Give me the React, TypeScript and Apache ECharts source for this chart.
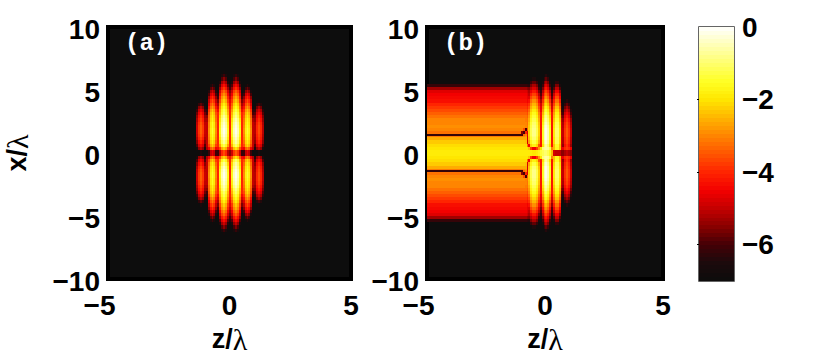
import React, { useEffect, useRef } from "react";
import * as echarts from "echarts";

// Panel (a): log-intensity; rows are |x|/lambda bands of 0.25, columns are z cells
const aRowStep = 0.25;
const aColStart = -1.38;
const aColStep = 0.08;
const aRows = [
  [-7,-6.9,-6.5,-6.9,-7,-7,-6.1,-5,-4.6,-5,-6.1,-6.2,-5.1,-4,-3.6,-4,-5.1,-5.5,-4.9,-3.8,-3.4,-3.8,-4.9,-6.2,-6.1,-5,-4.6,-5,-6.1,-7,-7,-6.9,-6.5,-6.9,-7],
  [-6.5,-5.4,-5,-5.4,-6.5,-5.2,-4.5,-3.4,-3,-3.4,-4.5,-4.4,-3.7,-2.6,-2.2,-2.6,-3.7,-4.2,-3.5,-2.4,-2,-2.4,-3.5,-4.4,-4.5,-3.4,-3,-3.4,-4.5,-5.2,-6.5,-5.4,-5,-5.4,-6.5],
  [-5.9,-4.8,-4.4,-4.8,-5.9,-5,-3.7,-2.6,-2.2,-2.6,-3.7,-4,-2.7,-1.6,-1.2,-1.6,-2.7,-4,-2.5,-1.4,-1,-1.4,-2.5,-4,-3.6,-2.5,-2.1,-2.5,-3.6,-5,-5.9,-4.8,-4.4,-4.8,-5.9],
  [-5.5,-4.4,-4,-4.4,-5.5,-5,-3.3,-2.2,-1.8,-2.2,-3.3,-4,-2.2,-1.1,-0.7,-1.1,-2.2,-4,-2.1,-1,-0.6,-1,-2.1,-4,-3.3,-2.2,-1.8,-2.2,-3.3,-5,-5.5,-4.4,-4,-4.4,-5.5],
  [-5.2,-4.1,-3.7,-4.1,-5.2,-5,-3.1,-2,-1.6,-2,-3.1,-4,-1.9,-0.8,-0.4,-0.8,-1.9,-4,-1.9,-0.8,-0.4,-0.8,-1.9,-4,-3.1,-2,-1.6,-2,-3.1,-5,-5.3,-4.2,-3.8,-4.2,-5.3],
  [-5,-3.9,-3.5,-3.9,-5,-5,-3,-1.9,-1.5,-1.9,-3,-4,-1.7,-0.6,-0.2,-0.6,-1.7,-4,-1.7,-0.6,-0.2,-0.6,-1.7,-4,-3,-1.9,-1.5,-1.9,-3,-5,-5.2,-4.1,-3.7,-4.1,-5.2],
  [-4.9,-3.8,-3.4,-3.8,-4.9,-5,-2.9,-1.8,-1.4,-1.8,-2.9,-4,-1.6,-0.5,-0.1,-0.5,-1.6,-4,-1.6,-0.5,-0.1,-0.5,-1.6,-4,-2.9,-1.8,-1.4,-1.8,-2.9,-5,-5.1,-4,-3.6,-4,-5.1],
  [-4.9,-3.8,-3.4,-3.8,-4.9,-5,-2.9,-1.8,-1.4,-1.8,-2.9,-4,-1.6,-0.5,-0.1,-0.5,-1.6,-4,-1.6,-0.5,-0.1,-0.5,-1.6,-4,-2.9,-1.8,-1.4,-1.8,-2.9,-5,-5.1,-4,-3.6,-4,-5.1],
  [-4.9,-3.8,-3.4,-3.8,-4.9,-5,-3,-1.9,-1.5,-1.9,-3,-4,-1.7,-0.6,-0.2,-0.6,-1.7,-4,-1.7,-0.6,-0.2,-0.6,-1.7,-4,-3,-1.9,-1.5,-1.9,-3,-5,-5.1,-4,-3.6,-4,-5.1],
  [-5,-3.9,-3.5,-3.9,-5,-5,-3,-1.9,-1.5,-1.9,-3,-4,-1.8,-0.7,-0.3,-0.7,-1.8,-4,-1.8,-0.7,-0.3,-0.7,-1.8,-4,-3.1,-2,-1.6,-2,-3.1,-5,-5.2,-4.1,-3.7,-4.1,-5.2],
  [-5.2,-4.1,-3.7,-4.1,-5.2,-5.2,-3.2,-2.1,-1.7,-2.1,-3.2,-4,-2,-0.9,-0.5,-0.9,-2,-4,-2,-0.9,-0.5,-0.9,-2,-4,-3.2,-2.1,-1.7,-2.1,-3.2,-5.2,-5.4,-4.3,-3.9,-4.3,-5.4],
  [-5.4,-4.3,-3.9,-4.3,-5.4,-5.5,-3.3,-2.2,-1.8,-2.2,-3.3,-4,-2.2,-1.1,-0.7,-1.1,-2.2,-4,-2.3,-1.2,-0.8,-1.2,-2.3,-4,-3.4,-2.3,-1.9,-2.3,-3.4,-5.6,-5.6,-4.5,-4.1,-4.5,-5.6],
  [-5.7,-4.6,-4.2,-4.6,-5.7,-6,-3.5,-2.4,-2,-2.4,-3.5,-4,-2.5,-1.4,-1,-1.4,-2.5,-4,-2.5,-1.4,-1,-1.4,-2.5,-4,-3.6,-2.5,-2.1,-2.5,-3.6,-6,-5.9,-4.8,-4.4,-4.8,-5.9],
  [-6.1,-5,-4.6,-5,-6.1,-6.3,-3.8,-2.7,-2.3,-2.7,-3.8,-4.4,-2.7,-1.6,-1.2,-1.6,-2.7,-4,-2.8,-1.7,-1.3,-1.7,-2.8,-4.4,-3.9,-2.8,-2.4,-2.8,-3.9,-6.3,-6.3,-5.2,-4.8,-5.2,-6.3],
  [-6.6,-5.5,-5.1,-5.5,-6.6,-7,-4.2,-3.1,-2.7,-3.1,-4.2,-4.8,-3,-1.9,-1.5,-1.9,-3,-4.2,-3.1,-2,-1.6,-2,-3.1,-4.8,-4.3,-3.2,-2.8,-3.2,-4.3,-7,-6.8,-5.7,-5.3,-5.7,-6.8],
  [-7,-6.2,-5.8,-6.2,-7,-7,-4.6,-3.5,-3.1,-3.5,-4.6,-5.2,-3.3,-2.2,-1.8,-2.2,-3.3,-4.4,-3.4,-2.3,-1.9,-2.3,-3.4,-5.2,-4.7,-3.6,-3.2,-3.6,-4.7,-7,-7,-6.4,-6,-6.4,-7],
  [-7,-7,-6.6,-7,-7,-7,-5,-3.9,-3.5,-3.9,-5,-5.6,-3.7,-2.6,-2.2,-2.6,-3.7,-4.6,-3.8,-2.7,-2.3,-2.7,-3.8,-5.6,-5.1,-4,-3.6,-4,-5.1,-7,-7,-7,-6.8,-7,-7],
  [-7,-7,-7,-7,-7,-7,-5.4,-4.3,-3.9,-4.3,-5.4,-6,-4,-2.9,-2.5,-2.9,-4,-5,-4.1,-3,-2.6,-3,-4.1,-6,-5.5,-4.4,-4,-4.4,-5.5,-7,-7,-7,-7,-7,-7],
  [-7,-7,-7,-7,-7,-7,-5.9,-4.8,-4.4,-4.8,-5.9,-6.4,-4.4,-3.3,-2.9,-3.3,-4.4,-5.3,-4.5,-3.4,-3,-3.4,-4.5,-6.4,-6,-4.9,-4.5,-4.9,-6,-7,-7,-7,-7,-7,-7],
  [-7,-7,-7,-7,-7,-7,-6.4,-5.3,-4.9,-5.3,-6.4,-7,-4.8,-3.7,-3.3,-3.7,-4.8,-5.6,-4.9,-3.8,-3.4,-3.8,-4.9,-7,-6.6,-5.5,-5.1,-5.5,-6.6,-7,-7,-7,-7,-7,-7],
  [-7,-7,-7,-7,-7,-7,-7,-5.9,-5.5,-5.9,-7,-7,-5.3,-4.2,-3.8,-4.2,-5.3,-6,-5.4,-4.3,-3.9,-4.3,-5.4,-7,-7,-6.1,-5.7,-6.1,-7,-7,-7,-7,-7,-7,-7],
  [-7,-7,-7,-7,-7,-7,-7,-6.5,-6.1,-6.5,-7,-7,-5.8,-4.7,-4.3,-4.7,-5.8,-6.4,-5.9,-4.8,-4.4,-4.8,-5.9,-7,-7,-6.8,-6.4,-6.8,-7,-7,-7,-7,-7,-7,-7],
  [-7,-7,-7,-7,-7,-7,-7,-7,-6.8,-7,-7,-7,-6.4,-5.3,-4.9,-5.3,-6.4,-7,-6.5,-5.4,-5,-5.4,-6.5,-7,-7,-7,-7,-7,-7,-7,-7,-7,-7,-7,-7],
  [-7,-7,-7,-7,-7,-7,-7,-7,-7,-7,-7,-7,-7,-5.9,-5.5,-5.9,-7,-7,-7,-6,-5.6,-6,-7,-7,-7,-7,-7,-7,-7,-7,-7,-7,-7,-7,-7],
  [-7,-7,-7,-7,-7,-7,-7,-7,-7,-7,-7,-7,-7,-6.5,-6.1,-6.5,-7,-7,-7,-6.6,-6.2,-6.6,-7,-7,-7,-7,-7,-7,-7,-7,-7,-7,-7,-7,-7],
  [-7,-7,-7,-7,-7,-7,-7,-7,-7,-7,-7,-7,-7,-7,-6.8,-7,-7,-7,-7,-7,-6.9,-7,-7,-7,-7,-7,-7,-7,-7,-7,-7,-7,-7,-7,-7],
];

// Panel (b): same kind of table near the focus, plus the flat profile left of it
const bRowEdges = [0,0.25,0.5,0.75,1,1.25,1.33,1.47,1.75,2,2.25,2.5,2.75,3,3.25,3.5,3.75,4,4.25,4.5,4.75,5,5.25,5.5,5.75,6,6.25];
const bColStart = -1.02;
const bColStep = 0.08;
const bBandStart = -5;
const bBandProfile = [-1.9,-2,-2.1,-2.3,-2.6,-3.1,-6.2,-3.2,-3,-2.9,-3,-3,-3.2,-3.4,-3.6,-3.8,-4,-4.3,-4.4,-4.5,-4.7,-5.3,-6.2,-7,-7,-7];
const bRows = [
  [-1.9,-1.9,-1.9,-1.9,-1.9,-1.9,-2,-2,-1.9,-1.7,-1.4,-1.2,-1,-1,-1.2,-1.6,-2.5,-4.8,-5,-5,-5,-5.5,-5.5,-5.2,-5,-5.2,-5.5],
  [-2,-2,-2,-2,-2.4,-3.8,-4.5,-4.5,-3.8,-2.8,-2,-0.9,-0.7,-0.6,-0.7,-1.2,-3,-2.4,-1.6,-1.6,-2.4,-4.6,-4.6,-4,-3.8,-4,-4.6],
  [-2.1,-2.1,-2.1,-3.2,-4.5,-2.2,-1.8,-1.8,-2.2,-3.5,-4.2,-2,-1,-0.6,-1,-2,-4.2,-2.4,-1.5,-1.5,-2.4,-4.8,-5.4,-4.3,-3.9,-4.3,-5.4],
  [-2.3,-2.3,-2.4,-4.8,-2.7,-1.7,-1.3,-1.3,-1.7,-2.7,-4.2,-1.7,-0.7,-0.3,-0.7,-1.7,-4.2,-2.1,-1.2,-1.2,-2.1,-4.8,-5.2,-4.1,-3.7,-4.1,-5.2],
  [-2.6,-2.6,-2.6,-4.8,-2.4,-1.4,-1,-1,-1.4,-2.4,-4.2,-1.5,-0.5,-0.1,-0.5,-1.5,-4.2,-2,-1.1,-1.1,-2,-4.8,-5.1,-4,-3.6,-4,-5.1],
  [-3.1,-2.9,-2.8,-4.8,-2.3,-1.3,-0.9,-0.9,-1.3,-2.3,-4.2,-1.5,-0.5,-0.1,-0.5,-1.5,-4.2,-1.9,-1,-1,-1.9,-4.8,-5,-3.9,-3.5,-3.9,-5],
  [-6,-3.3,-3,-4.6,-2.2,-1.2,-0.8,-0.8,-1.2,-2.2,-4.2,-1.5,-0.5,-0.1,-0.5,-1.5,-4.2,-1.9,-1,-1,-1.9,-4.8,-5,-3.9,-3.5,-3.9,-5],
  [-5.5,-6,-4,-4.8,-2.2,-1.2,-0.8,-0.8,-1.2,-2.2,-4.2,-1.5,-0.5,-0.1,-0.5,-1.5,-4.2,-1.9,-1,-1,-1.9,-4.8,-5,-3.9,-3.5,-3.9,-5],
  [-3,-3.6,-6,-3.5,-2.2,-1.2,-0.8,-0.8,-1.2,-2.2,-4.2,-1.5,-0.5,-0.1,-0.5,-1.5,-4.2,-1.9,-1,-1,-1.9,-4.8,-5,-3.9,-3.5,-3.9,-5],
  [-2.9,-2.9,-3,-3.1,-2.3,-1.3,-0.9,-0.9,-1.3,-2.3,-4.2,-1.6,-0.6,-0.2,-0.6,-1.6,-4.2,-2,-1.1,-1.1,-2,-4.8,-5.1,-4,-3.6,-4,-5.1],
  [-3,-3,-3,-3.2,-2.4,-1.4,-1,-1,-1.4,-2.4,-4.2,-1.8,-0.8,-0.4,-0.8,-1.8,-4.2,-2.1,-1.2,-1.2,-2.1,-4.8,-5.2,-4.1,-3.7,-4.1,-5.2],
  [-3,-3,-3.1,-3.2,-2.6,-1.6,-1.2,-1.2,-1.6,-2.6,-4.2,-2,-1,-0.6,-1,-2,-4.2,-2.3,-1.4,-1.4,-2.3,-5,-5.4,-4.3,-3.9,-4.3,-5.4],
  [-3.2,-3.2,-3.2,-3.4,-2.8,-1.8,-1.4,-1.4,-1.8,-2.8,-4.2,-2.2,-1.2,-0.8,-1.2,-2.2,-4.2,-2.5,-1.6,-1.6,-2.5,-5.4,-5.7,-4.6,-4.2,-4.6,-5.7],
  [-3.4,-3.4,-3.4,-3.6,-3,-2,-1.6,-1.6,-2,-3,-4.2,-2.5,-1.5,-1.1,-1.5,-2.5,-4.2,-2.7,-1.8,-1.8,-2.7,-5.8,-6,-4.9,-4.5,-4.9,-6],
  [-3.6,-3.6,-3.6,-3.8,-3.3,-2.3,-1.9,-1.9,-2.3,-3.3,-4.5,-2.8,-1.8,-1.4,-1.8,-2.8,-4.5,-3,-2.1,-2.1,-3,-6,-6.4,-5.3,-4.9,-5.3,-6.4],
  [-3.8,-3.8,-3.8,-4,-3.6,-2.6,-2.2,-2.2,-2.6,-3.6,-4.6,-3.1,-2.1,-1.7,-2.1,-3.1,-4.8,-3.3,-2.4,-2.4,-3.3,-6.2,-6.8,-5.7,-5.3,-5.7,-6.8],
  [-4,-4,-4,-4.2,-3.9,-2.9,-2.5,-2.5,-2.9,-3.9,-4.8,-3.5,-2.5,-2.1,-2.5,-3.5,-5,-3.7,-2.8,-2.8,-3.7,-6.4,-7,-6.2,-5.8,-6.2,-7],
  [-4.3,-4.3,-4.3,-4.5,-4.3,-3.3,-2.9,-2.9,-3.3,-4.3,-5.2,-3.9,-2.9,-2.5,-2.9,-3.9,-5.4,-4.1,-3.2,-3.2,-4.1,-7,-7,-6.8,-6.4,-6.8,-7],
  [-4.4,-4.4,-4.4,-4.6,-4.7,-3.7,-3.3,-3.3,-3.7,-4.7,-5.6,-4.3,-3.3,-2.9,-3.3,-4.3,-5.8,-4.5,-3.6,-3.6,-4.5,-7,-7,-7,-7,-7,-7],
  [-4.5,-4.5,-4.5,-4.7,-5,-4.1,-3.7,-3.7,-4.1,-5.1,-5.9,-4.7,-3.7,-3.3,-3.7,-4.7,-6,-4.9,-4,-4,-4.9,-7,-7,-7,-7,-7,-7],
  [-4.7,-4.7,-4.7,-4.9,-5.2,-4.6,-4.2,-4.2,-4.6,-5.6,-6.2,-5.1,-4.1,-3.7,-4.1,-5.1,-6.4,-5.4,-4.5,-4.5,-5.4,-7,-7,-7,-7,-7,-7],
  [-5.3,-5.3,-5.3,-5.5,-5.6,-5.1,-4.7,-4.7,-5.1,-6.1,-6.5,-5.6,-4.6,-4.2,-4.6,-5.6,-6.8,-5.9,-5,-5,-5.9,-7,-7,-7,-7,-7,-7],
  [-6.2,-6.2,-6.2,-6.3,-6.4,-5.6,-5.2,-5.2,-5.6,-6.6,-7,-6.1,-5.1,-4.7,-5.1,-6.1,-7,-6.5,-5.6,-5.6,-6.5,-7,-7,-7,-7,-7,-7],
  [-7,-7,-7,-7,-7,-6.2,-5.8,-5.8,-6.2,-7,-7,-6.6,-5.6,-5.2,-5.6,-6.6,-7,-7,-6.3,-6.3,-7,-7,-7,-7,-7,-7,-7],
  [-7,-7,-7,-7,-7,-6.9,-6.5,-6.5,-6.9,-7,-7,-7,-6.2,-5.8,-6.2,-7,-7,-7,-7,-7,-7,-7,-7,-7,-7,-7,-7],
  [-7,-7,-7,-7,-7,-7,-7,-7,-7,-7,-7,-7,-6.8,-6.4,-6.8,-7,-7,-7,-7,-7,-7,-7,-7,-7,-7,-7,-7],
];

const zTicksMax = 5;
const xTicksMax = 10;
const colorbarTicks = [0, -2, -4, -6];
const colorbarMinorTicks = [-2, -4, -6];
const colorMin = -7;
const colorMax = 0;
const colorbarBands = 64;
const hotStops = [
  "#0c0c0c", "#1c0a0c", "#450005", "#8a0000", "#c30000", "#f30000", "#ff2400", "#ff5500",
  "#ff8500", "#ffb600", "#ffe700", "#ffff24", "#ffff6d", "#ffffb6", "#ffffff",
];

const FONT = "Liberation Sans";
const minus = (v: number | string) => String(v).replace("-", "\u2212");

type Cell = [number, number, number, number, number];

function panelCells(rows: number[][], edges: number[], start: number, step: number): Cell[] {
  const out: Cell[] = [];
  rows.forEach((row, r) => {
    row.forEach((v, c) => {
      if (v <= colorMin) return;
      const z0 = start + c * step;
      const z1 = z0 + step;
      out.push([z0, z1, edges[r], edges[r + 1], v]);
      out.push([z0, z1, -edges[r + 1], -edges[r], v]);
    });
  });
  return out;
}

function bandCells(profile: number[], edges: number[], z0: number, z1: number): Cell[] {
  const out: Cell[] = [];
  profile.forEach((v, r) => {
    if (v <= colorMin) return;
    out.push([z0, z1, edges[r], edges[r + 1], v]);
    out.push([z0, z1, -edges[r + 1], -edges[r], v]);
  });
  return out;
}

const aRowEdges = aRows.map((_, i) => i * aRowStep).concat(aRows.length * aRowStep);

const barCells: Cell[] = Array.from({ length: colorbarBands }, (_, i) => {
  const h = (colorMax - colorMin) / colorbarBands;
  const lo = colorMin + i * h;
  return [0, 1, lo, lo + h, lo + h / 2] as Cell;
});

const renderCell = (_: any, api: any) => {
  const a = api.coord([api.value(0), api.value(3)]);
  const b = api.coord([api.value(1), api.value(2)]);
  const x = Math.round(a[0]);
  const y = Math.round(a[1]);
  return {
    type: "rect",
    shape: { x, y, width: Math.round(b[0]) - x, height: Math.round(b[1]) - y },
    style: { fill: api.visual("color") },
  };
};

const cellSeries = (index: number, data: Cell[]) => ({
  type: "custom",
  xAxisIndex: index,
  yAxisIndex: index,
  renderItem: renderCell,
  encode: { x: [0, 1], y: [2, 3] },
  clip: true,
  silent: true,
  data,
});

const tickFont = { fontFamily: FONT, fontWeight: "bold" as const, fontSize: 28, color: "#000" };
const nameRich = {
  rich: {
    b: { fontFamily: FONT, fontWeight: "bold" as const, fontSize: 27, color: "#000" },
    l: { fontFamily: "Liberation Serif", fontWeight: "normal" as const, fontSize: 30, color: "#000" },
  },
};

const panelGrid = (left: number, width: number) => ({
  left,
  top: 27,
  width,
  height: 254,
  show: true,
  backgroundColor: "#0d0d0d",
  borderColor: "#000",
  borderWidth: 4,
});

const zAxis = (gridIndex: number) => ({
  type: "value",
  gridIndex,
  min: -zTicksMax,
  max: zTicksMax,
  interval: zTicksMax,
  name: "{b|z/}{l|\u03bb}",
  nameLocation: "middle",
  nameGap: 45,
  nameTextStyle: nameRich,
  axisLine: { show: true, onZero: false, lineStyle: { color: "#000", width: 4 } },
  axisTick: { show: false },
  splitLine: { show: false },
  axisLabel: {
    ...tickFont,
    margin: 12,
    hideOverlap: false,
    formatter: (v: number) => (v < 0 ? `{n|${minus(v)}}` : `${v}`),
    rich: { n: { ...tickFont, padding: [0, 17, 0, 0] } },
  },
});

const xAxisY = (gridIndex: number, named: boolean) => ({
  type: "value",
  gridIndex,
  min: -xTicksMax,
  max: xTicksMax,
  interval: 5,
  ...(named
    ? {
        name: "{b|x/}{l|\u03bb}",
        nameLocation: "middle",
        nameGap: 76,
        nameRotate: 90,
        nameTextStyle: nameRich,
      }
    : {}),
  axisLine: { show: true, onZero: false, lineStyle: { color: "#000", width: 4 } },
  axisTick: { show: false },
  splitLine: { show: false },
  axisLabel: {
    ...tickFont,
    margin: 8,
    hideOverlap: false,
    formatter: (v: number) => `{t|${minus(v)}}`,
    rich: { t: { ...tickFont, padding: [4, 0, 0, 0] } },
  },
});

const panelLabel = (x: number, text: string) => ({
  type: "text",
  x,
  y: 31,
  silent: true,
  style: {
    text,
    fontFamily: "Liberation Mono",
    fontWeight: "bold",
    fontSize: 24,
    fill: "#fff",
  },
});

export default function App() {
  const ref = useRef<HTMLDivElement>(null);
  useEffect(() => {
    if (!ref.current) return;
    const chart = echarts.init(ref.current, undefined, { renderer: "svg" });
    chart.setOption({
      animation: false,
      backgroundColor: "#fff",
      grid: [
        panelGrid(108, 243),
        panelGrid(427, 236),
        { left: 699, top: 27, width: 35, height: 254, show: true, borderColor: "#333", borderWidth: 1.5 },
      ],
      xAxis: [zAxis(0), zAxis(1), { type: "value", gridIndex: 2, min: 0, max: 1, show: false }],
      yAxis: [
        xAxisY(0, true),
        xAxisY(1, false),
        {
          type: "value",
          gridIndex: 2,
          position: "right",
          min: colorMin,
          max: colorMax,
          axisLine: { show: false },
          splitLine: { show: false },
          axisTick: { show: true, inside: true, length: 2, customValues: colorbarMinorTicks, lineStyle: { color: "#000", width: 1 } },
          axisLabel: { ...tickFont, margin: 8, formatter: minus, customValues: colorbarTicks, hideOverlap: false },
        },
        {
          type: "value",
          gridIndex: 2,
          position: "left",
          min: colorMin,
          max: colorMax,
          axisLine: { show: false },
          splitLine: { show: false },
          axisLabel: { show: false },
          axisTick: { show: true, inside: true, length: 2, customValues: colorbarMinorTicks, lineStyle: { color: "#000", width: 1 } },
        },
      ],
      visualMap: {
        show: false,
        type: "continuous",
        dimension: 4,
        min: colorMin,
        max: colorMax,
        inRange: { color: hotStops },
      },
      series: [
        cellSeries(0, panelCells(aRows, aRowEdges, aColStart, aColStep)),
        cellSeries(1, [
          ...bandCells(bBandProfile, bRowEdges, bBandStart, bColStart),
          ...panelCells(bRows, bRowEdges, bColStart, bColStep),
        ]),
        cellSeries(2, barCells),
      ],
      graphic: [panelLabel(125, "(a)"), panelLabel(444, "(b)")],
    });
    return () => chart.dispose();
  }, []);
  return <div ref={ref} style={{ position: "absolute", left: 0, top: 0, width: 830, height: 359 }} />;
}
